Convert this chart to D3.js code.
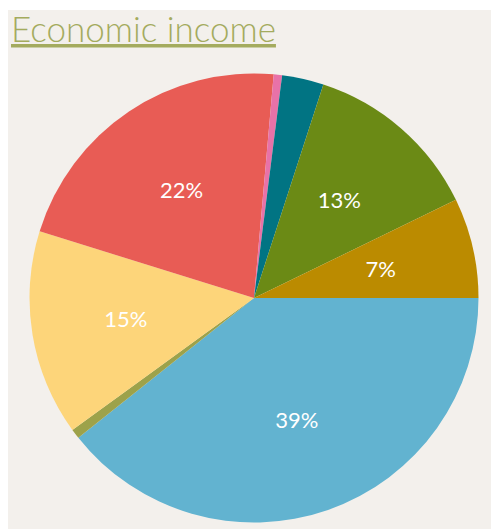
<html>
<head>
<meta charset="UTF-8">
<title>Economic income</title>
<script src="https://d3js.org/d3.v7.min.js"></script>
<style>
  body{
    margin: 0;
    background: #ffffff;
  }
  svg{
    display: block;
  }
</style>
</head>
<body>
<script type="text/javascript">
  var width = 491;
  var height = 529;
  var cx = 254;
  var cy = 298;
  var radius = 224.5;
  var labelRadius = 130;

  // slices, clockwise from 3 o'clock
  var categories = ["A", "B", "C", "D", "E", "F", "G", "H"];
  var values = [39.3, 0.7, 14.8, 21.6, 0.6, 3.0, 12.8, 7.2];
  var colors = ["#62b3d0", "#9da24a", "#fdd57a", "#e85c55", "#e872a8", "#017483", "#6b8a15", "#bb8b00"];

  var data = categories.map(function(c, i){
    return {name: c, value: values[i], color: colors[i]};
  });

  var svg = d3.select("body")
    .append("svg")
    .attr("width", width)
    .attr("height", height);

  svg.append("rect")
    .attr("x", 8)
    .attr("y", 10)
    .attr("width", width - 8)
    .attr("height", height - 10)
    .attr("fill", "#f3f0ec");

  svg.append("text")
    .attr("x", 11)
    .attr("y", 42)
    .attr("fill", "#a4ab5e")
    .attr("text-decoration", "underline")
    .style("font-family", "Lato")
    .style("font-weight", 300)
    .style("font-size", "35px")
    .text("Economic income");

  var total = d3.sum(values);

  var pie = d3.pie()
    .sort(null)
    .value(function(d){ return d.value; })
    .startAngle(Math.PI / 2)
    .endAngle(Math.PI / 2 + 2 * Math.PI);

  var arc = d3.arc().innerRadius(0).outerRadius(radius);
  var labelArc = d3.arc().innerRadius(labelRadius).outerRadius(labelRadius);

  var g = svg.append("g").attr("transform", "translate(" + cx + "," + cy + ")");

  var arcs = pie(data);

  g.selectAll("path")
    .data(arcs)
    .enter()
    .append("path")
    .attr("d", arc)
    .attr("fill", function(d){ return d.data.color; });

  g.selectAll("text")
    .data(arcs.filter(function(d){ return d.data.value / total > 0.05; }))
    .enter()
    .append("text")
    .attr("transform", function(d){ return "translate(" + labelArc.centroid(d) + ")"; })
    .attr("text-anchor", "middle")
    .attr("dy", "0.35em")
    .attr("fill", "#ffffff")
    .style("font-family", "Lato")
    .style("font-size", "22px")
    .text(function(d){ return Math.round(d.data.value / total * 100) + "%"; });
</script>
</body>
</html>
